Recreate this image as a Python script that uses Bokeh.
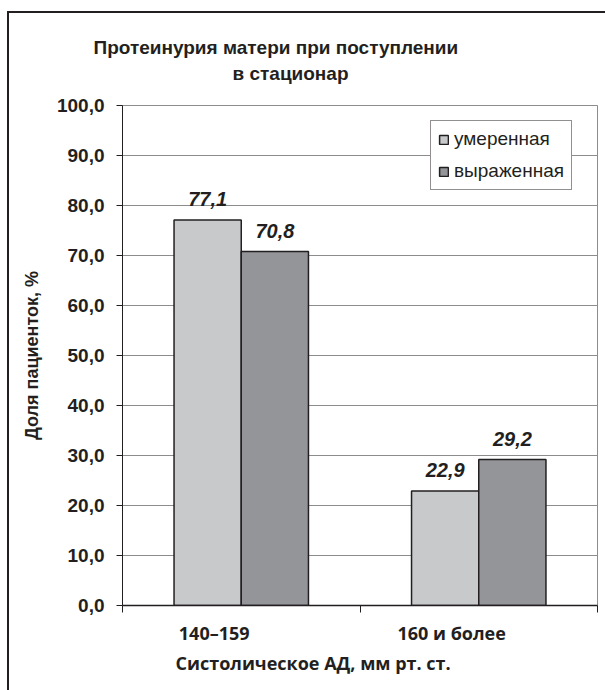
from bokeh.plotting import figure
from bokeh.models import (Range1d, FixedTicker, LinearAxis, Title, Legend,
                          LegendItem, ColumnDataSource)
from bokeh.core.properties import value
from bokeh.embed import file_html
from bokeh.resources import INLINE

# ---- data ----
categories = ["140–159", "160 и более"]
series_names = ["умеренная", "выраженная"]
moderate = [77.1, 22.9]
severe = [70.8, 29.2]
y_ticks = [0, 10, 20, 30, 40, 50, 60, 70, 80, 90, 100]
y_tick_labels = ["0,0", "10,0", "20,0", "30,0", "40,0", "50,0",
                 "60,0", "70,0", "80,0", "90,0", "100,0"]
title_lines = ["Протеинурия матери при поступлении", "в стационар"]
x_title = "Систолическое АД, мм рт. ст."
y_title = "Доля пациенток, %"

LIGHT = "#c8c9cb"
DARK = "#939598"
INK = "#231f20"
GRID = "#8c8c8c"
ARIAL = "Liberation Sans"
MYRIAD = "Open Sans"

W, H = 605, 690
p = figure(width=W, height=H, output_backend="svg", toolbar_location=None,
           x_range=Range1d(0, len(categories)), y_range=Range1d(0, 100),
           min_border_left=122, min_border_right=8, min_border_top=105,
           min_border_bottom=85, background_fill_color="white",
           border_fill_alpha=0)
# outer frame of the figure box (left and top edges visible)
p.styles = {
    "background-color": "white",
    "background-image": f"linear-gradient({INK}, {INK}), linear-gradient({INK}, {INK})",
    "background-position": "7px 11px, 7px 11px",
    "background-size": "2px 100%, 100% 2px",
    "background-repeat": "no-repeat",
}

bar_w = 0.283
centers = [i + 0.5 for i in range(len(categories))]
src = ColumnDataSource(dict(
    x1=[c - bar_w / 2 for c in centers], x2=[c + bar_w / 2 for c in centers],
    m=moderate, s=severe,
    ml=[f"{v:.1f}".replace(".", ",") for v in moderate],
    sl=[f"{v:.1f}".replace(".", ",") for v in severe]))

r1 = p.vbar(x="x1", top="m", width=bar_w, source=src, fill_color=LIGHT,
            line_color=INK, line_width=1.5)
r2 = p.vbar(x="x2", top="s", width=bar_w, source=src, fill_color=DARK,
            line_color=INK, line_width=1.5)

for xcol, ycol, lcol in (("x1", "m", "ml"), ("x2", "s", "sl")):
    p.text(x=xcol, y=ycol, text=lcol, source=src, text_align="center",
           text_baseline="alphabetic", y_offset=-21, text_font=value(ARIAL),
           text_font_style="bold italic", text_font_size="20px",
           text_color=INK)

# grid / outline
p.xgrid.visible = False
p.ygrid.ticker = FixedTicker(ticks=y_ticks)
p.ygrid.grid_line_color = GRID
p.ygrid.grid_line_width = 1
p.outline_line_color = GRID
p.outline_line_width = 1

# y axis
ya = p.yaxis[0]
ya.ticker = FixedTicker(ticks=y_ticks)
ya.major_label_overrides = {t: l for t, l in zip(y_ticks, y_tick_labels)}
ya.major_tick_out = 6
ya.major_tick_in = 0
ya.minor_tick_line_color = None
ya.axis_line_color = INK
ya.major_tick_line_color = INK
ya.major_label_text_font = ARIAL
ya.major_label_text_font_style = "bold"
ya.major_label_text_font_size = "19px"
ya.major_label_text_color = INK
ya.major_label_standoff = 12
ya.axis_label = y_title
ya.axis_label_text_font = ARIAL
ya.axis_label_text_font_style = "bold"
ya.axis_label_text_font_size = "18px"
ya.axis_label_text_color = INK
ya.axis_label_standoff = 12

# x axis: tick marks at category boundaries
xa = p.xaxis[0]
bounds = list(range(len(categories) + 1))
xa.ticker = FixedTicker(ticks=bounds)
xa.major_label_overrides = {b: "" for b in bounds}
xa.major_label_text_font_size = "1px"
xa.major_label_standoff = 0
xa.major_tick_out = 7
xa.major_tick_in = 0
xa.minor_tick_line_color = None
xa.axis_line_color = INK
xa.axis_line_width = 1.5
xa.major_tick_line_color = INK

# category labels (axis on a slightly shifted range, as in the original)
shift = 0.114
p.extra_x_ranges = {"lab": Range1d(shift, len(categories) + shift)}
la = LinearAxis(x_range_name="lab", ticker=FixedTicker(ticks=centers),
                major_label_overrides={c: l for c, l in zip(centers, categories)},
                major_tick_line_color=None, minor_tick_line_color=None,
                axis_line_color=None, major_label_standoff=2,
                major_label_text_font=MYRIAD, major_label_text_font_style="bold",
                major_label_text_font_size="18px", major_label_text_color=INK)
p.add_layout(la, "below")

p.add_layout(Title(text=x_title, align="left", offset=53, standoff=2,
                   text_font=MYRIAD, text_font_style="bold",
                   text_font_size="18px", text_color=INK), "below")

# title (second line added first: it sits nearer the frame)
p.add_layout(Title(text=title_lines[1], align="left", offset=110, standoff=43,
                   text_font=ARIAL, text_font_style="bold",
                   text_font_size="19px", text_color=INK), "above")
p.add_layout(Title(text=title_lines[0], align="left", offset=-29, standoff=-36,
                   text_font=ARIAL, text_font_style="bold",
                   text_font_size="19px", text_color=INK), "above")

legend = Legend(items=[LegendItem(label=series_names[0], renderers=[r1]),
                       LegendItem(label=series_names[1], renderers=[r2])],
                location=(308, 415), glyph_width=11, glyph_height=11,
                label_height=22, spacing=10, padding=7, margin=0,
                label_standoff=5, label_text_font=ARIAL,
                label_text_font_size="19px", label_text_color=INK,
                border_line_color=INK, border_line_width=1,
                background_fill_color="white", background_fill_alpha=1)
p.add_layout(legend)

open("out.html", "w").write(file_html(p, INLINE))
